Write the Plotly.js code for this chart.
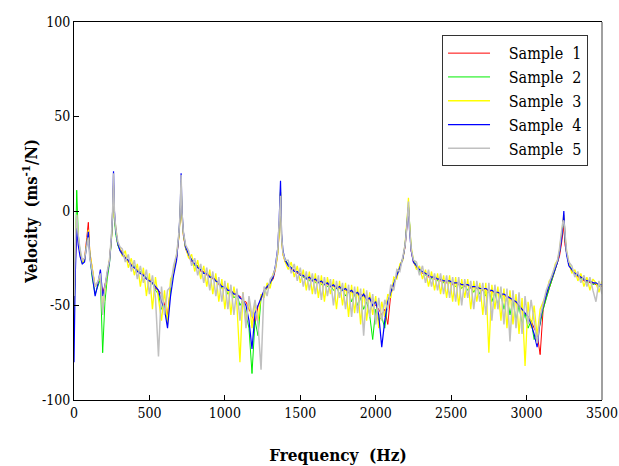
<!DOCTYPE html>
<html>
<head>
<meta charset="utf-8">
<script src="https://cdn.plot.ly/plotly-3.0.1.min.js"></script>
<style>
html,body{margin:0;padding:0;background:#fff;}
#chart{width:619px;height:466px;}
</style>
</head>
<body>
<div id="chart"></div>
<script>
// Frequency axis (Hz)
var freq = [
  0,8,18,28,40,55,70,85,95,105,120,140,160,175,190,205,220,235,248,256,262,268,278,290,305,
  320,340,360,380,400,420,440,460,480,500,520,540,560,580,600,620,640,660,680,
  695,703,710,716,725,740,
  760,780,800,820,840,860,880,900,920,940,960,980,1000,1020,1040,1060,1080,1100,1120,1140,1160,1180,1200,1220,1240,1260,1280,1300,1320,
  1335,1350,1360,1369,1376,1385,1400,
  1420,1440,1460,1480,1500,1520,1540,1560,1580,1600,1620,1640,1660,1680,1700,1720,1740,1760,1780,1800,1820,1840,1860,1880,1900,1920,1940,1960,1980,2000,2020,2040,2060,2080,2100,2120,2140,2160,2180,
  2195,2205,2212,2217,2224,2235,2250,
  2270,2290,2310,2330,2350,2370,2390,2410,2430,2450,2470,2490,2510,2530,2550,2570,2590,2610,2630,2650,2670,2690,2710,2730,2750,2770,2790,2810,2830,2850,2870,2890,2910,2930,2950,2970,2990,3010,3030,3050,3070,3090,3110,3130,3150,3170,3190,
  3205,3218,3230,3240,3247,3255,3265,3280,
  3300,3320,3340,3360,3380,3400,3420,3440,3460,3480,3500
];

var sample1 = [
  -50,-28,-6,-16,-22,-26,-25,-14,-6,-22,-30,-40,-37,-35,-44,-39,-34,-26,-15,-3,15,-4,-12,-18,-20,
  -22,-24,-27,-28,-30,-31,-33,-33,-36,-36,-38,-41,-42,-44,-50,-55,-40,-33,-25,
  -14,-4,14,-3,-13,-20,
  -24,-27,-28,-29,-32,-32,-34,-34,-36,-36,-39,-39,-41,-41,-43,-43,-45,-45,-48,-48,-52,-55,-60,-50,-47,-42,-41,-38,-36,
  -31,-23,-12,10,-15,-23,-27,
  -28,-31,-31,-33,-33,-35,-35,-36,-36,-37,-37,-38,-38,-39,-39,-40,-40,-41,-41,-42,-42,-43,-43,-44,-44,-45,-45,-47,-48,-50,-52,-55,-52,-60,-44,-39,-34,-30,-25,
  -19,-11,-4,3,-9,-21,-27,
  -30,-31,-33,-33,-35,-35,-36,-36,-37,-37,-38,-37,-39,-38,-39,-39,-40,-39,-41,-40,-41,-41,-42,-41,-43,-42,-44,-43,-45,-44,-46,-46,-48,-48,-51,-52,-55,-56,-58,-62,-65,-76,-52,-46,-41,-36,-31,
  -28,-24,-18,-12,-8,-18,-23,-28,
  -32,-33,-35,-35,-37,-37,-38,-38,-39,-39,-40
];

var sample2 = [
  -60,-20,11,-12,-21,-28,-26,-17,-12,-23,-35,-44,-40,-36,-75,-48,-36,-28,-16,-4,14,-5,-13,-18,-21,
  -22,-25,-26,-29,-29,-32,-32,-34,-35,-37,-38,-42,-44,-52,-50,-58,-42,-32,-24,
  -13,-3,16,-2,-12,-20,
  -23,-26,-29,-29,-31,-33,-33,-35,-35,-37,-38,-41,-40,-44,-42,-46,-44,-50,-47,-55,-62,-86,-58,-66,-46,-44,-40,-39,-35,
  -30,-22,-10,12,-14,-22,-26,
  -28,-30,-32,-32,-34,-35,-35,-37,-36,-38,-37,-39,-38,-40,-39,-42,-40,-44,-41,-45,-42,-48,-44,-50,-46,-52,-48,-55,-68,-52,-58,-56,-62,-48,-44,-38,-34,-30,-25,
  -18,-10,-1,4,-8,-20,-26,
  -29,-32,-32,-34,-34,-36,-35,-37,-36,-38,-37,-38,-38,-40,-38,-41,-39,-42,-40,-43,-40,-44,-41,-45,-42,-48,-43,-50,-44,-52,-45,-55,-47,-58,-50,-60,-54,-62,-58,-68,-64,-60,-52,-46,-41,-36,-31,
  -27,-22,-15,-9,-4,-15,-22,-28,
  -31,-34,-34,-36,-36,-38,-37,-39,-38,-40,-39
];

var sample3 = [
  -55,-22,-2,-14,-22,-27,-26,-15,-10,-22,-30,-40,-38,-34,-52,-42,-33,-26,-15,-1,12,-3,-11,-17,-20,
  -24,-21,-30,-25,-34,-28,-40,-30,-45,-33,-52,-35,-48,-58,-42,-60,-36,-33,-23,
  -14,-4,15,-3,-12,-19,
  -25,-23,-32,-26,-36,-29,-40,-31,-44,-33,-48,-36,-52,-38,-55,-40,-50,-80,-43,-60,-46,-62,-48,-58,-44,-46,-38,-41,-33,
  -31,-23,-11,10,-15,-23,-27,
  -31,-27,-35,-29,-38,-31,-42,-32,-44,-33,-46,-34,-48,-35,-44,-36,-52,-37,-50,-38,-56,-39,-54,-40,-60,-41,-58,-43,-55,-45,-62,-48,-56,-44,-46,-35,-36,-28,-26,
  -17,-9,0,7,-7,-19,-26,
  -31,-29,-36,-31,-40,-32,-42,-33,-44,-34,-46,-34,-48,-35,-50,-36,-46,-36,-52,-37,-48,-38,-55,-38,-75,-39,-52,-40,-58,-41,-62,-42,-60,-44,-65,-46,-82,-48,-62,-50,-66,-52,-48,-44,-37,-35,-28,
  -26,-21,-13,-5,-2,-13,-21,-27,
  -33,-31,-37,-33,-40,-35,-42,-36,-38,-43,-37
];

var sample4 = [
  -80,-35,-8,-18,-24,-28,-27,-16,-11,-24,-32,-45,-38,-31,-45,-40,-33,-27,-14,0,21,0,-11,-17,-21,
  -23,-25,-26,-29,-30,-32,-33,-34,-36,-37,-38,-40,-42,-48,-52,-62,-45,-34,-26,
  -12,-2,20,0,-11,-19,
  -23,-26,-28,-30,-31,-33,-33,-35,-35,-37,-38,-40,-40,-42,-42,-44,-44,-46,-47,-50,-58,-73,-54,-50,-46,-42,-40,-38,-35,
  -29,-20,-5,16,-12,-21,-26,
  -29,-30,-32,-32,-34,-34,-36,-35,-37,-36,-38,-37,-39,-38,-40,-39,-41,-40,-42,-41,-43,-42,-44,-43,-46,-44,-47,-46,-50,-48,-55,-72,-58,-48,-43,-38,-34,-30,-25,
  -18,-10,-4,2,-10,-21,-27,
  -29,-31,-32,-33,-34,-35,-35,-36,-36,-37,-37,-37,-38,-38,-38,-39,-39,-39,-40,-40,-40,-41,-41,-41,-42,-42,-43,-43,-44,-44,-45,-46,-47,-48,-50,-52,-54,-56,-60,-65,-72,-58,-50,-44,-39,-35,-30,
  -27,-22,-16,-8,0,-14,-23,-29,
  -31,-33,-34,-35,-36,-37,-37,-38,-38,-39,-39
];

var sample5 = [
  -45,-18,-2,-13,-20,-26,-25,-18,-14,-25,-32,-40,-37,-33,-55,-40,-32,-26,-13,0,20,-1,-10,-16,-19,
  -20,-27,-23,-32,-26,-36,-29,-38,-31,-44,-34,-46,-77,-40,-55,-42,-40,-29,-23,
  -12,-2,19,-1,-11,-18,
  -21,-29,-25,-34,-28,-38,-30,-42,-32,-45,-35,-48,-37,-52,-39,-55,-41,-58,-43,-62,-45,-56,-47,-60,-84,-40,-45,-36,-34,
  -30,-21,-8,8,-13,-22,-26,
  -26,-33,-28,-37,-30,-40,-32,-42,-33,-44,-34,-47,-35,-45,-36,-50,-37,-46,-38,-52,-39,-56,-40,-54,-41,-66,-42,-56,-44,-60,-46,-58,-47,-52,-39,-42,-31,-32,-23,
  -18,-10,-2,5,-8,-20,-26,
  -27,-34,-29,-38,-31,-40,-33,-42,-33,-44,-34,-46,-35,-48,-35,-50,-36,-46,-37,-52,-37,-48,-38,-55,-38,-58,-39,-52,-40,-60,-41,-69,-42,-62,-43,-65,-45,-60,-47,-58,-70,-56,-48,-42,-38,-33,-29,
  -26,-20,-12,-6,-5,-12,-21,-27,
  -29,-35,-32,-38,-34,-40,-35,-42,-48,-37,-44
];

var seriesNames = ["Sample 1","Sample 2","Sample 3","Sample 4","Sample 5"];
var seriesData = [sample1, sample2, sample3, sample4, sample5];
var seriesColors = ["#ff0000","#00ee00","#ffff00","#0000ff","#c0c0c0"];
var seriesWidths = [1, 1, 1.3, 1.2, 1.5];

var xTicks = [0,500,1000,1500,2000,2500,3000,3500];
var yTicks = [-100,-50,0,50,100];

var FONT = "DejaVu Serif Condensed, DejaVu Serif, serif";

var traces = seriesData.map(function(d, i){
  return {
    x: freq, y: d, type: 'scatter', mode: 'lines',
    name: '\u00a0\u00a0\u00a0' + seriesNames[i].replace(' ', '\u00a0 '),
    line: {color: seriesColors[i], width: seriesWidths[i]},
    hoverinfo: 'skip'
  };
});

var layout = {
  width: 619, height: 466,
  margin: {l: 74, r: 17, t: 22, b: 66},
  paper_bgcolor: '#fff', plot_bgcolor: '#fff',
  font: {family: FONT, size: 16, color: '#000'},
  showlegend: true,
  legend: {
    x: 0.697, y: 0.965, xanchor: 'left', yanchor: 'top',
    bgcolor: '#fff', bordercolor: '#333', borderwidth: 1,
    font: {family: FONT, size: 16, color: '#000'},
    itemwidth: 42
  },
  xaxis: {
    range: [0, 3500], tickvals: xTicks, ticktext: xTicks.map(String),
    ticks: 'inside', ticklen: 5, tickcolor: '#000',
    showline: true, linecolor: '#000', linewidth: 1, mirror: true,
    showgrid: false, zeroline: false,
    tickfont: {family: FONT, size: 14, color: '#000'},
    title: {text: '<b>Frequency\u00a0 (Hz)</b>', font: {family: FONT, size: 17, color: '#000'}, standoff: 29}
  },
  yaxis: {
    range: [-100, 100], tickvals: yTicks, ticktext: yTicks.map(String),
    ticks: 'inside', ticklen: 5, tickcolor: '#000',
    showline: true, linecolor: '#000', linewidth: 1, mirror: false,
    showgrid: false, zeroline: false,
    tickfont: {family: FONT, size: 14, color: '#000'},
    title: {text: '<b>Velocity\u00a0 (ms<sup>-1</sup>/N)</b>', font: {family: FONT, size: 16.5, color: '#000'}, standoff: 0}
  },
  shapes: [{
    type: 'line', xref: 'paper', yref: 'paper', x0: 1, x1: 1, y0: 0, y1: 1,
    line: {color: '#808080', width: 1.5}
  }]
};

Plotly.newPlot('chart', traces, layout, {displayModeBar: false, staticPlot: true});
</script>
</body>
</html>
